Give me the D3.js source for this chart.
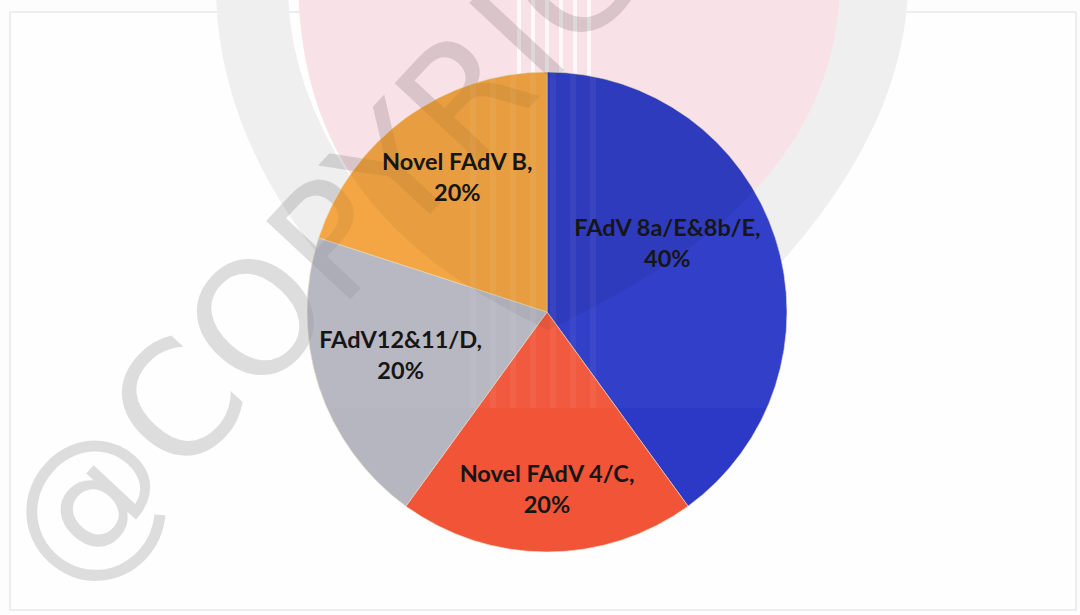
<!DOCTYPE html>
<html>
<head>
<meta charset="utf-8">
<script src="https://cdn.jsdelivr.net/npm/d3@7/dist/d3.min.js"></script>
<style>
  html, body { margin: 0; padding: 0; background: #fdfdfd; }
  svg { display: block; }
</style>
</head>
<body>
<svg id="chart" width="1080" height="615"></svg>
<script>
// ---- data ----
const categories = ["FAdV 8a/E&8b/E", "Novel FAdV 4/C", "FAdV12&11/D", "Novel FAdV B"];
const values = [40, 20, 20, 20];
const watermarkText = "@COPYRIGHT";

// ---- style / layout ----
const sliceColors = ["#2b39c6", "#f25438", "#b6b6c0", "#f4a33e"];
const cx = 547, cy = 312, R = 240;
const labelR = 156;
const labelNudge = { "FAdV 8a/E&8b/E": [-28, -13], "Novel FAdV 4/C": [0, 29], "FAdV12&11/D": [2, 3], "Novel FAdV B": [2, -1] };
const shieldPath = "M298,-20 C300,150 380,250 548,330 C716,250 838,150 840,-20 Z";
const ringPath = "M252,-20 C250,120 330,260 548,420 C766,260 872,120 872,-20";

const svg = d3.select("#chart");
const defs = svg.append("defs");
defs.append("clipPath").attr("id", "pieClip")
  .append("circle").attr("cx", cx).attr("cy", cy).attr("r", R);
defs.append("clipPath").attr("id", "logoClip")
  .append("rect").attr("x", 0).attr("y", 0).attr("width", 1080).attr("height", 408);

// page frame
svg.append("rect").attr("x", 10).attr("y", 12).attr("width", 1066).attr("height", 598)
  .attr("fill", "#fefefe").attr("stroke", "#dedee6").attr("stroke-width", 1);

// faint logo behind the chart
const logo = svg.append("g");
logo.append("path").attr("d", ringPath)
  .attr("fill", "none").attr("stroke", "#efefef").attr("stroke-width", 72);
logo.append("path").attr("d", shieldPath).attr("fill", "#f9e2e7");
d3.range(0, 6).forEach(i => {
  logo.append("rect").attr("x", 517 + i * 14).attr("y", 0).attr("width", 4).attr("height", 300)
    .attr("fill", "#ffffff").attr("opacity", 0.75);
});

// watermark text (under the pie)
svg.append("text")
  .attr("transform", "translate(72,598) rotate(-47)")
  .attr("font-family", "DejaVu Sans, sans-serif")
  .attr("font-size", 158)
  .attr("fill", "#000")
  .attr("fill-opacity", 0.13)
  .text(watermarkText);

// pie
const pie = d3.pie().sort(null).value(d => d.value);
const data = categories.map((c, i) => ({ name: c, value: values[i], color: sliceColors[i] }));
const arcs = pie(data);
const arc = d3.arc().innerRadius(0).outerRadius(R);
const labelArc = d3.arc().innerRadius(labelR).outerRadius(labelR);

const g = svg.append("g").attr("transform", `translate(${cx},${cy})`);
g.selectAll("path.slice").data(arcs).enter().append("path")
  .attr("class", "slice")
  .attr("d", arc)
  .attr("fill", d => d.data.color)
  .attr("stroke", "#e8dcc0").attr("stroke-width", 0.6);

// logo showing faintly through the pie
const over = svg.append("g").attr("clip-path", "url(#pieClip)");
const overTop = over.append("g").attr("clip-path", "url(#logoClip)");
overTop.append("rect").attr("x", 0).attr("y", 0).attr("width", 1080).attr("height", 408)
  .attr("fill", "#ffffff").attr("opacity", 0.035);
overTop.append("path").attr("d", shieldPath).attr("fill", "#000").attr("opacity", 0.05);
d3.range(0, 7).forEach(i => {
  overTop.append("rect").attr("x", 470 + i * 20).attr("y", 0).attr("width", 6).attr("height", 408)
    .attr("fill", "#ffffff").attr("opacity", 0.05);
});
over.append("text")
  .attr("transform", "translate(72,598) rotate(-47)")
  .attr("font-family", "DejaVu Sans, sans-serif")
  .attr("font-size", 158)
  .attr("fill", "#000")
  .attr("fill-opacity", 0.055)
  .text(watermarkText);

// labels
const labels = svg.append("g").attr("transform", `translate(${cx},${cy})`)
  .selectAll("text.lbl").data(arcs).enter().append("text")
  .attr("class", "lbl")
  .attr("text-anchor", "middle")
  .attr("font-family", "Lato, 'Open Sans', sans-serif")
  .attr("font-weight", 700)
  .attr("font-size", 23.5)
  .attr("fill", "#161616")
  .attr("transform", d => {
    const p = labelArc.centroid(d);
    const n = labelNudge[d.data.name] || [0, 0];
    return `translate(${p[0] + n[0]},${p[1] + n[1]})`;
  });
labels.append("tspan").attr("x", 0).attr("y", -15).text(d => d.data.name + ",");
labels.append("tspan").attr("x", 0).attr("y", 16).text(d => d.data.value + "%");
</script>
</body>
</html>
